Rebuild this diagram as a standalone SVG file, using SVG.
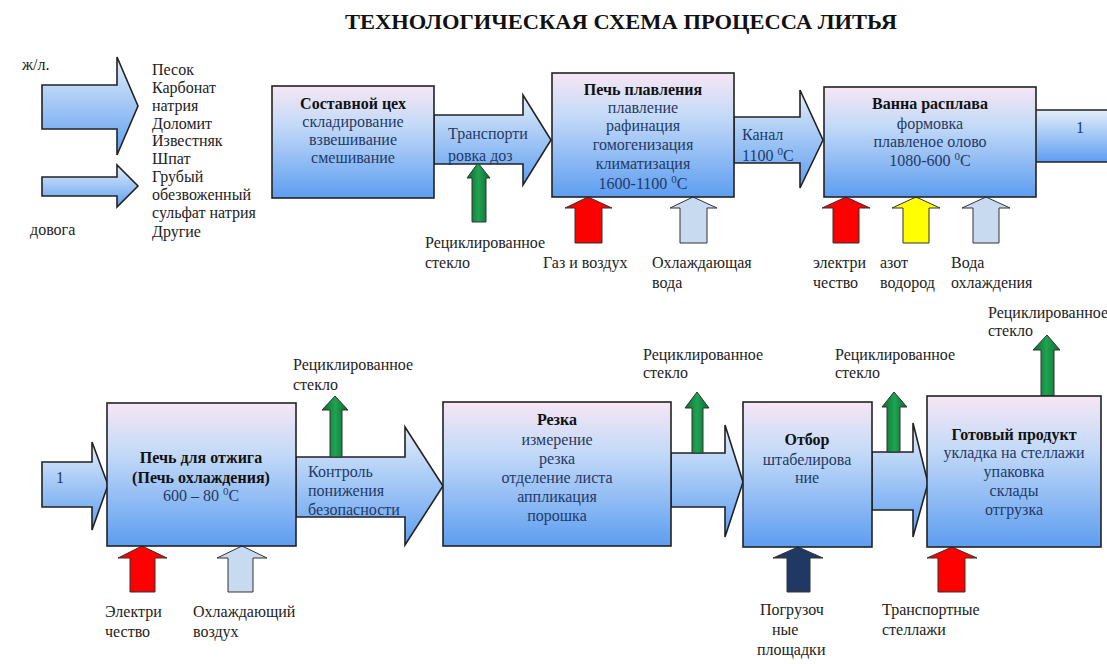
<svg xmlns="http://www.w3.org/2000/svg" width="1107" height="664" viewBox="0 0 1107 664" font-family="'Liberation Serif', 'Times New Roman', Times, 'DejaVu Serif', serif">
<defs>
<linearGradient id="gBox" x1="0" y1="0" x2="0" y2="1">
<stop offset="0" stop-color="#f6e6f4"/><stop offset="0.35" stop-color="#c4daf8"/><stop offset="1" stop-color="#5d9df0"/>
</linearGradient>
<linearGradient id="gArr" x1="0" y1="0" x2="0" y2="1">
<stop offset="0" stop-color="#e4eefb"/><stop offset="1" stop-color="#5e9ef0"/>
</linearGradient>
<linearGradient id="gGreen" x1="0" y1="0" x2="1" y2="0">
<stop offset="0" stop-color="#0c6a2e"/><stop offset="0.5" stop-color="#1fa352"/><stop offset="1" stop-color="#0c6a2e"/>
</linearGradient>
<style>
text{font-size:16px;fill:#222}
.b{font-weight:bold;fill:#111}
.n{fill:#1f3a66;text-anchor:middle}
.c{text-anchor:middle}
.d{fill:#1f3a66}
.box{fill:url(#gBox);stroke:#222;stroke-width:1.6}
.arr{fill:url(#gArr);stroke:#222;stroke-width:1.6}
.red{fill:#ff0000;stroke:#333;stroke-width:1}
.yel{fill:#ffff00;stroke:#333;stroke-width:1}
.lb{fill:#c8daf0;stroke:#333;stroke-width:1}
.grn{fill:url(#gGreen);stroke:#333;stroke-width:1}
.nav{fill:#1f3864;stroke:#333;stroke-width:1}
.title{font-size:21px;font-weight:bold;fill:#111}
</style>
</defs>
<rect width="1107" height="664" fill="#ffffff"/>
<text class="title" x="345" y="29" textLength="552" lengthAdjust="spacingAndGlyphs">ТЕХНОЛОГИЧЕСКАЯ СХЕМА ПРОЦЕССА ЛИТЬЯ</text>

<g id="connectors">
<polygon class="arr" points="42,85 117,85 117,57 138,106 117,155 117,129 42,129"/>
<polygon class="arr" points="42,177 117,177 117,165 138,186 117,207 117,196 42,196"/>
<polygon class="arr" points="434,115 523,115 523,95 551,140 523,185 523,164 434,164"/>
<polygon class="arr" points="734,117 800,117 800,90 823,140 800,188 800,163 734,163"/>
<path d="M1036,110 H1107 V162 H1036 Z" fill="url(#gArr)"/>
<path d="M1036,110 H1107 M1036,162 H1107" stroke="#222" stroke-width="1.6" fill="none"/>
<polygon class="arr" points="42,462 92,462 92,442 108,485 92,530 92,507 42,507"/>
<polygon class="arr" points="296,457 405,457 405,427 443,486 405,545 405,517 296,517"/>
<polygon class="arr" points="671,453 725,453 725,425 743,482 725,537 725,507 671,507"/>
<polygon class="arr" points="872,452 913,452 913,423 928,483 913,537 913,510 872,510"/>
<polygon class="grn" points="472,222 472,178 467,178 478,163 490,178 486,178 486,222"/>
<polygon class="red" points="575,243 575,208 565,208 588,197 612,208 602,208 602,243"/>
<polygon class="lb" points="680,243 680,208 670,208 693,197 717,208 707,208 707,243"/>
<polygon class="red" points="833,243 833,208 822,208 846,197 870,208 859,208 859,243"/>
<polygon class="yel" points="903,243 903,208 892,208 916,197 940,208 929,208 929,243"/>
<polygon class="lb" points="973,243 973,208 962,208 986,197 1010,208 999,208 999,243"/>
<polygon class="red" points="130,592 130,558 118,558 142,546 167,558 155,558 155,592"/>
<polygon class="lb" points="228,592 228,558 217,558 242,546 267,558 253,558 253,592"/>
<polygon class="grn" points="330,457 330,410 322,410 335,396 348,410 342,410 342,457"/>
<polygon class="grn" points="692,453 692,408 685,408 697,392 709,408 703,408 703,453"/>
<polygon class="grn" points="887,452 887,407 882,407 894,392 907,407 900,407 900,452"/>
<polygon class="grn" points="1041,396 1041,350 1033,350 1047,335 1060,350 1054,350 1054,396"/>
<polygon class="nav" points="787,592 787,558 773,558 798,547 823,558 810,558 810,592"/>
<polygon class="red" points="938,592 938,558 927,558 952,547 977,558 965,558 965,592"/>
</g>

<g id="inputs">
<text x="22" y="70" font-size="14">ж/л.</text>
<text x="30" y="235" font-size="14">довога</text>
<text x="152" y="75">Песок</text>
<text x="152" y="93">Карбонат</text>
<text x="152" y="111">натрия</text>
<text x="152" y="129">Доломит</text>
<text x="152" y="146">Известняк</text>
<text x="152" y="164">Шпат</text>
<text x="152" y="182">Грубый</text>
<text x="152" y="200">обезвоженный</text>
<text x="152" y="218">сульфат натрия</text>
<text x="152" y="237">Другие</text>
</g>

<g id="node-sostavnoy">
<rect class="box" x="272" y="86" width="162" height="112"/>
<text class="c b" x="353" y="109">Составной цех</text>
<text class="n" x="353" y="127">складирование</text>
<text class="n" x="353" y="145">взвешивание</text>
<text class="n" x="353" y="163">смешивание</text>
</g>
<g id="lbl-transport">
<text class="d" x="448" y="139">Транспорти</text>
<text class="d" x="448" y="161">ровка доз</text>
<text x="425" y="248">Рециклированное</text>
<text x="425" y="268">стекло</text>
</g>

<g id="node-pech-plav">
<rect class="box" x="552" y="73" width="182" height="124"/>
<text class="c b" x="643" y="95">Печь плавления</text>
<text class="n" x="643" y="113">плавление</text>
<text class="n" x="643" y="131">рафинация</text>
<text class="n" x="643" y="150">гомогенизация</text>
<text class="n" x="643" y="169">климатизация</text>
<text class="n" x="643" y="189">1600-1100 <tspan font-size="11" dy="-6">0</tspan><tspan dy="6">C</tspan></text>
</g>
<g id="lbl-plav">
<text x="543" y="268">Газ и воздух</text>
<text x="652" y="268">Охлаждающая</text>
<text x="652" y="288">вода</text>
<text class="d" x="742" y="140">Канал</text>
<text class="d" x="742" y="161">1100 <tspan font-size="11" dy="-6">0</tspan><tspan dy="6">C</tspan></text>
</g>

<g id="node-vanna">
<rect class="box" x="824" y="87" width="212" height="110"/>
<text class="c b" x="930" y="109">Ванна расплава</text>
<text class="n" x="930" y="129">формовка</text>
<text class="n" x="930" y="147">плавленое олово</text>
<text class="n" x="930" y="166">1080-600 <tspan font-size="11" dy="-6">0</tspan><tspan dy="6">C</tspan></text>
<text class="d" x="1076" y="133">1</text>
</g>
<g id="lbl-vanna">
<text x="813" y="268">электри</text>
<text x="813" y="288">чество</text>
<text x="880" y="268">азот</text>
<text x="880" y="288">водород</text>
<text x="951" y="268">Вода</text>
<text x="951" y="288">охлаждения</text>
</g>

<g id="node-otzhig">
<text class="d" x="56" y="483">1</text>
<rect class="box" x="107" y="403" width="189" height="143"/>
<text class="c b" x="201" y="463">Печь для отжига</text>
<text class="c b" x="201" y="483">(Печь охлаждения)</text>
<text class="n" x="201" y="501">600 – 80 <tspan font-size="11" dy="-6">0</tspan><tspan dy="6">C</tspan></text>
</g>
<g id="lbl-otzhig">
<text class="d" x="308" y="477">Контроль</text>
<text class="d" x="308" y="496">понижения</text>
<text class="d" x="308" y="515">безопасности</text>
<text x="293" y="370">Рециклированное</text>
<text x="293" y="390">стекло</text>
<text x="105" y="617">Электри</text>
<text x="105" y="637">чество</text>
<text x="193" y="617">Охлаждающий</text>
<text x="193" y="637">воздух</text>
</g>

<g id="node-rezka">
<rect class="box" x="443" y="402" width="228" height="144"/>
<text class="c b" x="557" y="425">Резка</text>
<text class="n" x="557" y="445">измерение</text>
<text class="n" x="557" y="464">резка</text>
<text class="n" x="557" y="483">отделение листа</text>
<text class="n" x="557" y="502">аппликация</text>
<text class="n" x="557" y="521">порошка</text>
<text x="643" y="360">Рециклированное</text>
<text x="643" y="378">стекло</text>
</g>

<g id="node-otbor">
<rect class="box" x="743" y="402" width="129" height="145"/>
<text class="c b" x="807" y="445">Отбор</text>
<text class="n" x="807" y="465">штабелирова</text>
<text class="n" x="807" y="483">ние</text>
<text x="835" y="360">Рециклированное</text>
<text x="835" y="378">стекло</text>
<text x="760" y="615">Погрузоч</text>
<text x="772" y="635">ные</text>
<text x="757" y="655">площадки</text>
</g>

<g id="node-gotovy">
<rect class="box" x="927" y="396" width="174" height="151"/>
<text class="c b" x="1014" y="440">Готовый продукт</text>
<text class="n" x="1014" y="458">укладка на стеллажи</text>
<text class="n" x="1014" y="477">упаковка</text>
<text class="n" x="1014" y="496">склады</text>
<text class="n" x="1014" y="515">отгрузка</text>
<text x="988" y="318">Рециклированное</text>
<text x="988" y="336">стекло</text>
<text x="882" y="615">Транспортные</text>
<text x="882" y="635">стеллажи</text>
</g>
</svg>
